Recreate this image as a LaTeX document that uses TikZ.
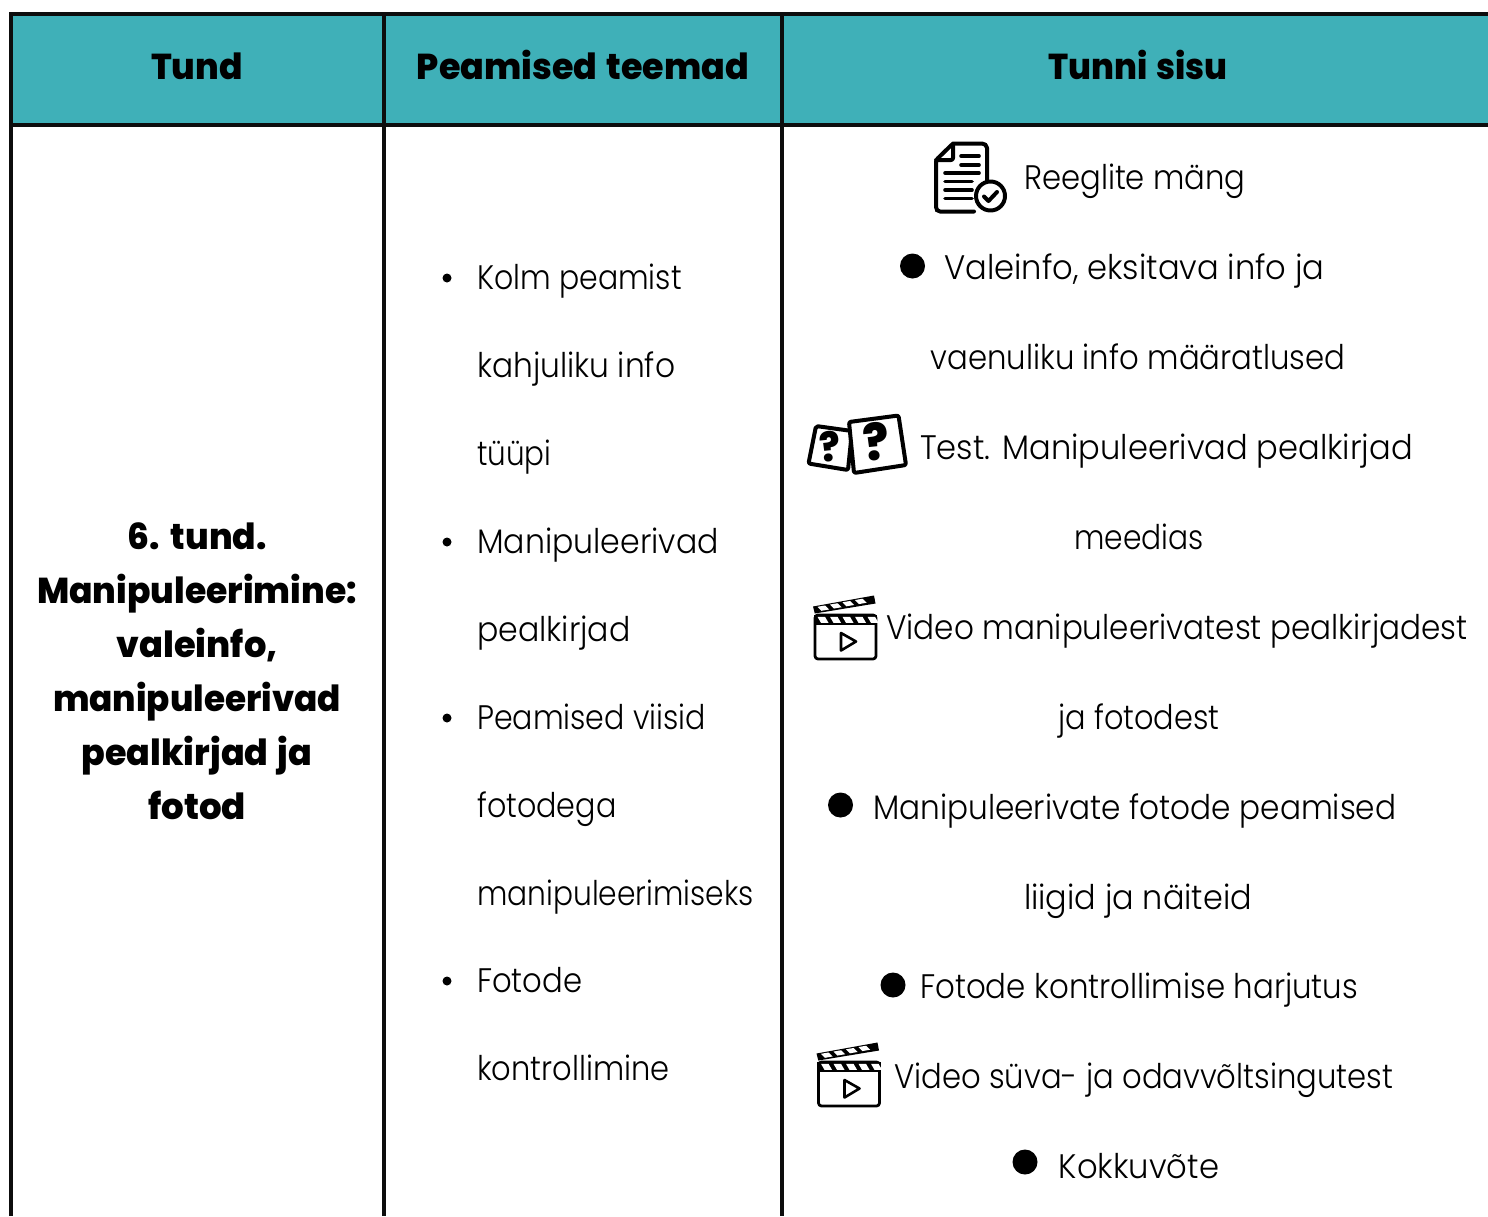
\documentclass[tikz,border=0pt]{standalone}
\usepackage{fontspec}
\setmainfont{Poppins}
\newfontfamily\bodyf{Poppins Light}[FakeStretch=0.92]
\newfontfamily\headf{Poppins ExtraBold}[FakeStretch=0.96,WordSpace=1.4]
\definecolor{teal1}{HTML}{3FB0B8}
\newcommand{\sx}[2]{\scalebox{#1}[1]{#2}}
\tikzset{
  body/.style={anchor=base west,inner sep=0pt,font=\bodyf\fontsize{34}{34}\selectfont,text=black},
  bodyc/.style={anchor=base,inner sep=0pt,font=\bodyf\fontsize{34}{34}\selectfont,text=black},
  head/.style={anchor=base,inner sep=0pt,font=\headf\fontsize{36}{36}\selectfont,text=black},
  rule/.style={line width=4pt,draw=black!95},
  ico/.style={line width=4pt,draw=black,line join=round,line cap=round},
  clapper/.pic={
    \draw[line width=2.8pt,rounded corners=3pt,line join=round] (815,615) -- (815,659) -- (876,659) -- (876,615) -- cycle;
    \fill (813.6,614.5) rectangle (877.4,625);
    \foreach \x in {817.5,830,842.5,855,867.5}{\fill[white] (\x,616.8) -- (\x+7.5,616.8) -- (\x+11,622.8) -- (\x+3.5,622.8) -- cycle;}
    \fill (813,606.5) -- (874,595.5) -- (875.5,603.5) -- (814.8,613.5) -- cycle;
    \foreach \x in {817.5,830,842.5,855}{\fill[white] (\x,{607.6-0.18*(\x-813)}) -- (\x+7.5,{606.3-0.18*(\x-813)}) -- (\x+11.5,{610.3-0.18*(\x-813)}) -- (\x+4,{611.6-0.18*(\x-813)}) -- cycle;}
    \draw[line width=2.6pt,line join=round] (841,633) -- (856,641.5) -- (841,650.5) -- cycle;
  }
}
\begin{document}
\begin{tikzpicture}[x=1pt,y=-1pt]
\useasboundingbox (0,0) rectangle (1488,1216);
\fill[white] (0,0) rectangle (1488,1216);
\fill[teal1] (11,14) rectangle (1488,125);
\draw[rule] (1488,14) -- (11,14) -- (11,1216);
\draw[rule] (11,125) -- (1488,125);
\draw[rule] (384,14) -- (384,1216);
\draw[rule] (782,14) -- (782,1216);

\node[head] (h1) at (197,79) {Tund};
\node[head] (h2) at (583,79) {\sx{1.01}{Peamised teemad}};
\node[head] (h3) at (1138,79) {\sx{.967}{Tunni sisu}};

\node[head] (t1) at (197,549) {6. tund.};
\node[head] (t2) at (197,603) {Manipuleerimine:};
\node[head] (t3) at (197,657) {\sx{1.02}{valeinfo,}};
\node[head] (t4) at (197,711) {\sx{.99}{manipuleerivad}};
\node[head] (t5) at (197,765) {\sx{1.01}{pealkirjad ja}};
\node[head] (t6) at (197,819) {\sx{1.03}{fotod}};

\foreach \y in {278,542,718,981}{\fill (447,\y) circle (4.5);}
\node[body] (m1) at (477,289) {\sx{.958}{Kolm peamist}};
\node[body] (m2) at (477,377) {kahjuliku info};
\node[body] (m3) at (477,465) {\sx{.94}{tüüpi}};
\node[body] (m4) at (477,553) {\sx{1.01}{Manipuleerivad}};
\node[body] (m5) at (477,641) {\sx{1.01}{pealkirjad}};
\node[body] (m6) at (477,729) {\sx{.96}{Peamised viisid}};
\node[body] (m7) at (477,817) {\sx{.965}{fotodega}};
\node[body] (m8) at (477,905) {\sx{.95}{manipuleerimiseks}};
\node[body] (m9) at (477,992) {\sx{.98}{Fotode}};
\node[body] (m10) at (477,1080) {\sx{.975}{kontrollimine}};

\foreach \x/\y in {912.5/266,840.5/805,893/985,1025/1162}{\fill (\x,\y) circle (12.5);}
\node[body] (r1) at (1024,189) {\sx{.98}{Reeglite mäng}};
\node[body] (r2) at (944,279) {\sx{1.027}{Valeinfo, eksitava info ja}};
\node[bodyc] (r3) at (1138,369) {\sx{.983}{vaenuliku info määratlused}};
\node[body] (r4) at (920,459) {\sx{1.027}{Test. Manipuleerivad pealkirjad}};
\node[bodyc] (r5) at (1139,549) {\sx{.95}{meedias}};
\node[body] (r6) at (886,639) {\sx{.993}{Video manipuleerivatest pealkirjadest}};
\node[bodyc] (r7) at (1139,729) {\sx{.97}{ja fotodest}};
\node[body] (r8) at (873,819) {\sx{.996}{Manipuleerivate fotode peamised}};
\node[bodyc] (r9) at (1138,909) {\sx{1.02}{liigid ja näiteid}};
\node[body] (r10) at (920,998) {\sx{.986}{Fotode kontrollimise harjutus}};
\node[body] (r11) at (894,1088) {\sx{.98}{Video süva- ja odavvõltsingutest}};
\node[bodyc] (r12) at (1139,1178) {\sx{1.03}{Kokkuvõte}};

% document icon
\draw[ico,rounded corners=2pt] (953,143.5) -- (984,143.5) -- (987,146) -- (987,181);
\draw[ico,rounded corners=2pt] (974,211.5) -- (938,211.5) -- (936,209) -- (936,160) -- (953,143.5) -- (953,160) -- (936,160);
\foreach \a/\b/\y in {961/979/156,961/979/165,945/979/173,945/972/181.5,945/972/190,945/972/198.5}{\draw[ico,line width=3.6pt] (\a,\y) -- (\b,\y);}
\draw[ico,fill=white] (990.5,196) circle (14.5);
\draw[ico] (984,196.5) -- (988.5,201) -- (997,192);

% question cards
\draw[ico,rounded corners=2pt] (816,426) -- (852,431) -- (848,470) -- (808.5,463.5) -- cycle;
\draw[ico,fill=white,rounded corners=2pt] (849,422) -- (898.5,415.5) -- (906,465) -- (854,473) -- cycle;
\node[rotate=6,inner sep=0pt,font=\headf\fontsize{40}{40}\selectfont] (q1) at (830.5,447) {?};
\node[rotate=6,inner sep=0pt,font=\headf\fontsize{50}{50}\selectfont] (q2) at (876,442) {?};

% clapperboards
\pic at (0,0) {clapper};
\pic at (3.5,447) {clapper};
\end{tikzpicture}
\end{document}
